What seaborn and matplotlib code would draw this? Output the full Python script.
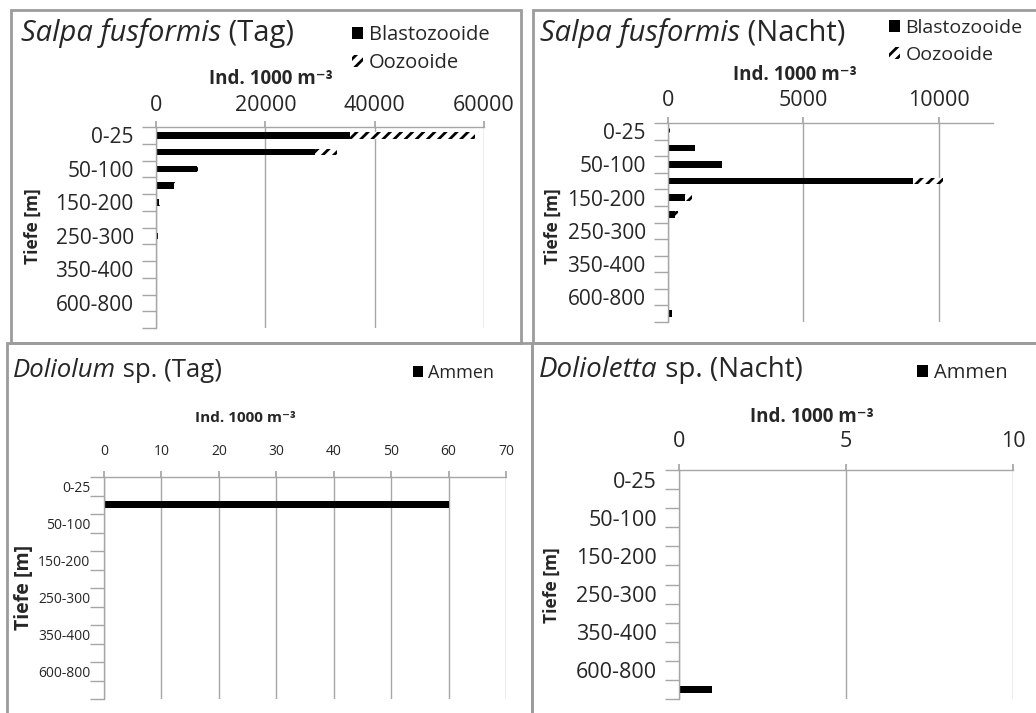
import numpy as np
import pandas as pd
import matplotlib
matplotlib.use("Agg")
import matplotlib.pyplot as plt
import seaborn as sns
from matplotlib.patches import Patch, Rectangle

# depth classes (every other one gets a label, like in the Excel original)
depths = ["0-25", "25-50", "50-100", "100-150", "150-200", "200-250",
          "250-300", "300-350", "350-400", "400-600", "600-800", "800-1000"]
shown_labels = ["0-25", "50-100", "150-200", "250-300", "350-400", "600-800"]

# Salpa fusiformis, day
salpa_tag_blasto = [35500, 29100, 7500, 3300, 550, 100, 450, 150, 0, 0, 0, 0]
salpa_tag_oozo = [22800, 4000, 200, 150, 100, 50, 100, 0, 0, 0, 0, 0]
# Salpa fusiformis, night
salpa_nacht_blasto = [20, 1000, 2000, 9030, 640, 270, 0, 0, 0, 0, 0, 160]
salpa_nacht_oozo = [60, 0, 0, 1130, 240, 100, 0, 0, 0, 0, 0, 0]
# Doliolids, nurses ("Ammen")
doliolum_tag = [0, 60, 0, 0, 0, 0, 0, 0, 0, 0, 0, 0]
dolioletta_nacht = [0, 0, 0, 0, 0, 0, 0, 0, 0, 0, 0, 1]

W, H = 1036, 713
GRID = "#a6a6a6"
BORDER = "#9c9c9c"

sns.set_theme(style="white")
plt.rcParams["font.family"] = ["Open Sans", "DejaVu Sans"]
plt.rcParams["hatch.linewidth"] = 2.0
MAIN = ["Open Sans", "DejaVu Sans"]


def fx(x):
    return x / W


def fy(y):
    return 1 - y / H


def box(l, t, r, b):
    return [fx(l), fy(b), fx(r) - fx(l), fy(t) - fy(b)]


fig = plt.figure(figsize=(W / 100, H / 100), dpi=100)
fig.patch.set_facecolor("white")

# panel frames
for l, t, r, b in [(11, 10, 521, 343), (533, 10, 1045, 343),
                   (7, 343, 532, 720), (532, 343, 1045, 720)]:
    fig.add_artist(Rectangle((fx(l), fy(b)), fx(r) - fx(l), fy(t) - fy(b),
                             transform=fig.transFigure, fill=False,
                             edgecolor=BORDER, lw=2))


def two_part_title(x, y, ital, rest, size):
    t = fig.text(fx(x), fy(y), ital, fontsize=size, style="italic",
                 family=MAIN, va="center", ha="left")
    bb = t.get_window_extent(fig.canvas.get_renderer())
    fig.text(bb.x1 / fig.bbox.width, fy(y), rest, fontsize=size,
             family=MAIN, va="center", ha="left")


def draw_panel(rect, blasto, oozo, xmax, xticks, tick_fs, ytick_fs,
               xlab_pos, ylab_pos, lab_fs, ylab_fs, xpad, ypad):
    ax = fig.add_axes(box(*rect))
    df = pd.DataFrame({"Tiefe": depths, "Blasto": blasto})
    if oozo is not None:
        df["Total"] = np.add(blasto, oozo)
        sns.barplot(data=df, y="Tiefe", x="Total", order=depths, color="white",
                    edgecolor="black", hatch="///", linewidth=0, width=0.4,
                    saturation=1, ax=ax)
    sns.barplot(data=df, y="Tiefe", x="Blasto", order=depths, color="black",
                linewidth=0, width=0.4, saturation=1, ax=ax)
    ax.set_xlim(0, xmax)
    ax.set_ylim(11.5, -0.5)
    ax.set_xticks(xticks)
    ax.set_xticklabels([str(v) for v in xticks], fontsize=tick_fs, family=MAIN)
    ax.xaxis.tick_top()
    ax.tick_params(axis="x", top=True, length=4, color=GRID, pad=xpad)
    ax.set_yticks([depths.index(d) for d in shown_labels])
    ax.set_yticklabels(shown_labels, fontsize=ytick_fs, family=MAIN)
    ax.set_yticks(np.arange(-0.5, 12, 1), minor=True)
    ax.tick_params(axis="y", which="major", left=True, length=0, pad=ypad)
    ax.tick_params(axis="y", which="minor", left=True, length=10, color=GRID, width=1)
    ax.grid(axis="x", color=GRID, lw=1)
    ax.set_axisbelow(True)
    for s in ["right", "bottom"]:
        ax.spines[s].set_visible(False)
    for s in ["top", "left"]:
        ax.spines[s].set_color(GRID)
        ax.spines[s].set_linewidth(1)
    ax.set_xlabel("Ind. 1000 m⁻³", fontsize=lab_fs, fontweight="bold",
                  family=MAIN)
    ax.xaxis.set_label_position("top")
    ax.xaxis.set_label_coords(fx(xlab_pos[0]), fy(xlab_pos[1]),
                              transform=fig.transFigure)
    ax.set_ylabel("Tiefe [m]", fontsize=ylab_fs, fontweight="bold",
                  family=MAIN)
    ax.yaxis.set_label_coords(fx(ylab_pos[0]), fy(ylab_pos[1]),
                              transform=fig.transFigure)
    ax.xaxis.label.set_va("center")
    ax.yaxis.label.set_va("center")
    return ax


def legend(ax, x, y, items, fs, spacing):
    handles = []
    for lab, kind in items:
        if kind == "solid":
            handles.append(Patch(facecolor="black", edgecolor="black", lw=0, label=lab))
        else:
            handles.append(Patch(facecolor="white", edgecolor="black", hatch="///",
                                 lw=0, label=lab))
    ax.legend(handles=handles, loc="upper left", bbox_to_anchor=(fx(x), fy(y)),
              bbox_transform=fig.transFigure, frameon=False, borderpad=0,
              borderaxespad=0, handlelength=0.55, handleheight=0.55,
              handletextpad=0.3, labelspacing=spacing,
              prop={"size": fs, "family": MAIN})


# Salpa, Tag
ax1 = draw_panel((156, 127, 484, 328), salpa_tag_blasto, salpa_tag_oozo, 60000,
                 [0, 20000, 40000, 60000], 15.5, 15, (271, 79), (33, 226), 13.5, 12.5,
                 4, 16)
two_part_title(21, 33, "Salpa fusformis", " (Tag)", 21)
legend(ax1, 352, 25, [("Blastozooide", "solid"), ("Oozooide", "hatch")], 14.5, 0.4)

# Salpa, Nacht
ax2 = draw_panel((668, 123, 993, 322), salpa_nacht_blasto, salpa_nacht_oozo, 12000,
                 [0, 5000, 10000], 15.5, 15, (795, 75), (553, 226), 13.5, 12.5,
                 5, 16)
two_part_title(540, 33, "Salpa fusformis", " (Nacht)", 21)
legend(ax2, 889, 19, [("Blastozooide", "solid"), ("Oozooide", "hatch")], 14, 0.45)

# Doliolum, Tag
ax3 = draw_panel((104, 477, 506, 699), doliolum_tag, None, 70,
                 list(range(0, 71, 10)), 10, 10, (245, 418), (24, 587), 11, 14,
                 9, 10)
two_part_title(13, 371, "Doliolum", " sp. (Tag)", 18.5)
legend(ax3, 413, 364, [("Ammen", "solid")], 13, 0.5)

# Dolioletta, Nacht
ax4 = draw_panel((679, 470, 1013, 699), dolioletta_nacht, None, 10,
                 [0, 5, 10], 15.5, 15.5, (812, 417), (552, 585), 13.5, 12.5,
                 9, 16)
two_part_title(539, 370, "Dolioletta", " sp. (Nacht)", 20)
legend(ax4, 917, 363, [("Ammen", "solid")], 14.5, 0.5)

fig.savefig("out.png", dpi=100)
